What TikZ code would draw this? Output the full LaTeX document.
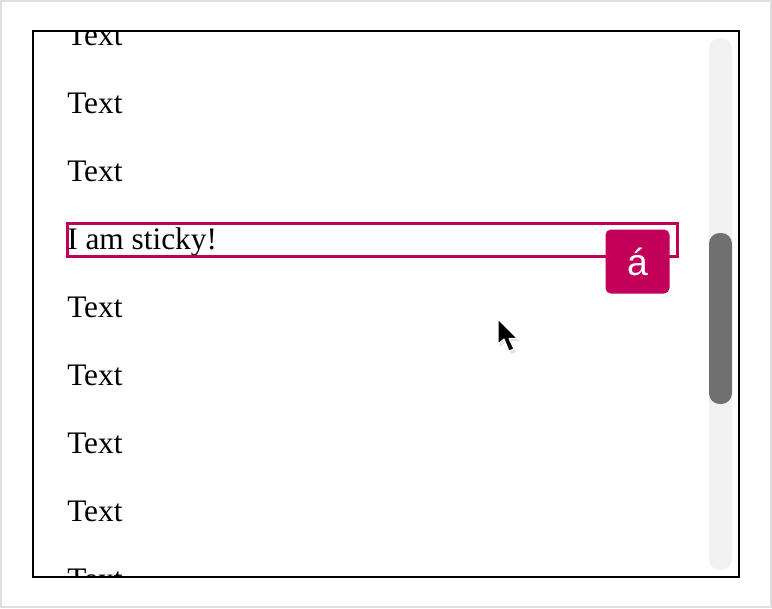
\documentclass[tikz,border=0pt]{standalone}
\usepackage{fontspec}
\setmainfont{Liberation Serif}
\newfontfamily\badgefont{Liberation Sans}
\definecolor{stickyred}{RGB}{194,0,90}
\definecolor{trackgray}{RGB}{241,241,241}
\definecolor{thumbgray}{RGB}{112,112,112}
\tikzset{
  rowtext/.style={anchor=base west,inner sep=0pt,font=\fontsize{23.5}{23.5}\selectfont},
  badgebox/.style={fill=stickyred,rounded corners=4pt,minimum width=48pt,minimum height=48pt,text=white,font=\badgefont\fontsize{28}{28}\selectfont},
}
\begin{document}
\begin{tikzpicture}[x=0.75pt,y=-0.75pt]
	\useasboundingbox (0,0) rectangle (772,608);
	\draw[color=gray!25,line width=1.5pt] (1,1) rectangle (771,607); % khung ngoai
	\fill[trackgray,rounded corners=8pt] (709,38) rectangle (732,570); % thanh cuon
	\fill[thumbgray,rounded corners=8pt] (709,233) rectangle (732,404);
	\begin{scope}
		\clip (33,31) rectangle (739,577);
		\foreach \k in {0,1,2,4,5,6,7,8}
			\node[rowtext] (row\k) at (67,{45+68*\k}) {Text};
		\node[rowtext] (sticky) at (67,249) {I am sticky!};
		\draw[stickyred,line width=2.25pt] (67,223) rectangle (677,256); % khung sticky
	\end{scope}
	\draw[line width=1.5pt] (33,31) rectangle (739,577);
	\node[badgebox] (badge) at (637.5,261.5) {á};
	\begin{scope}[shift={(498,319)}] % con tro chuot
		\fill[black!12] (1.5,2.5) -- (1.5,28) -- (8,23) -- (13,35) -- (18,33) -- (13,22) -- (21.5,22) -- cycle;
		\draw[white,line width=0.8pt,fill=black,line join=round] (0,0) -- (0,25) -- (6,20) -- (11,32) -- (16,30) -- (11,19.5) -- (19.5,19.5) -- cycle;
	\end{scope}
\end{tikzpicture}
\end{document}
